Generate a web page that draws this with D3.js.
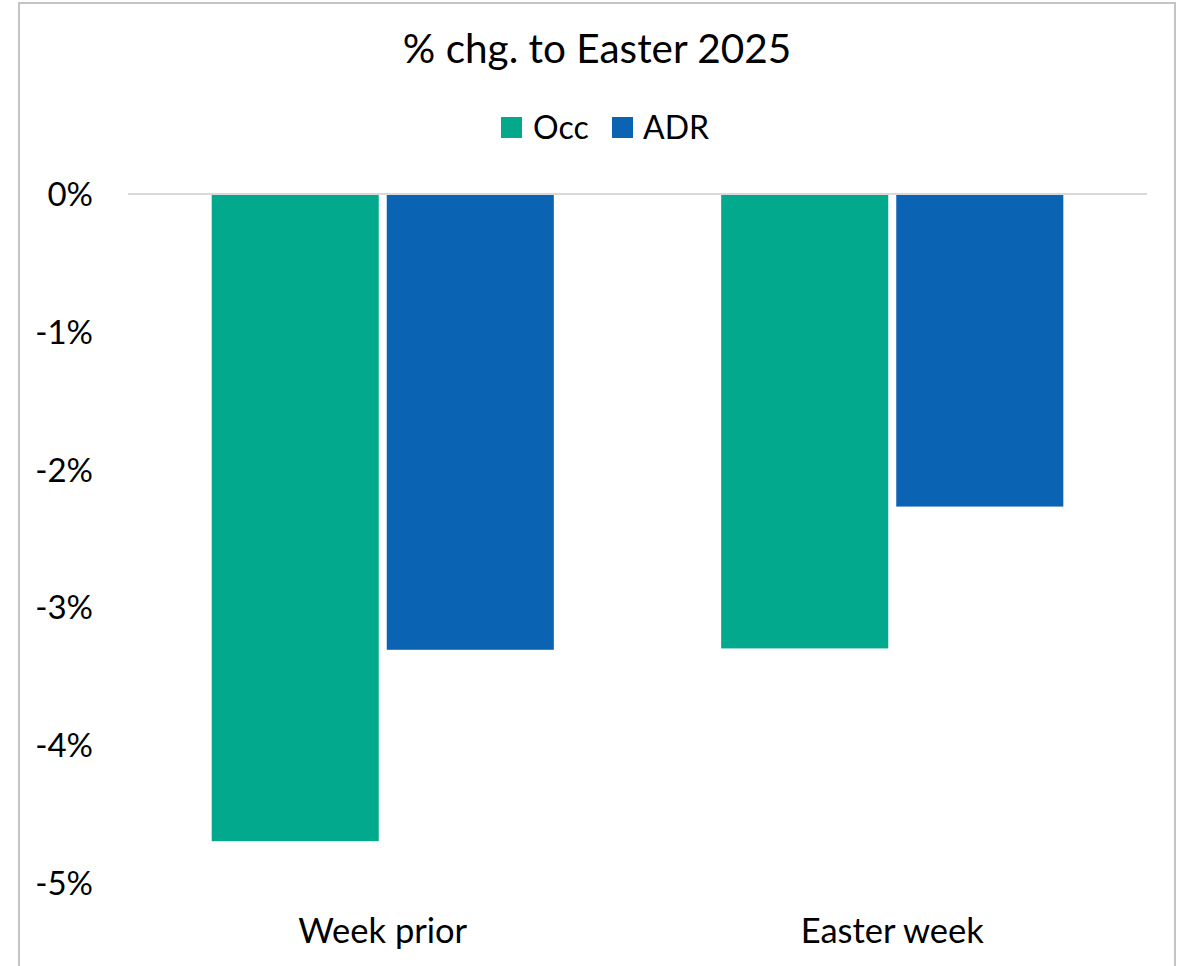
<!DOCTYPE html>
<html>
<head>
<meta charset="utf-8">
<script src="https://cdn.jsdelivr.net/npm/d3@7"></script>
<style>
  html, body { margin: 0; padding: 0; background: #ffffff; }
  svg { display: block; }
  text { font-family: Lato, "Open Sans", sans-serif; fill: #000; }
</style>
</head>
<body>
<svg id="chart" width="1183" height="966"></svg>
<script>
// Chart data
const categories = ["Week prior", "Easter week"];
const seriesNames = ["Occ", "ADR"];
const occValues = [-4.70, -3.30];
const adrValues = [-3.31, -2.27];
const yTicks = [0, -1, -2, -3, -4, -5];
const titleText = "% chg. to Easter 2025";

const colors = { Occ: "#02A98C", ADR: "#0A63B3" };

const svg = d3.select("#chart");

// outer frame
svg.append("rect")
  .attr("x", 19).attr("y", 3)
  .attr("width", 1156).attr("height", 1000)
  .attr("fill", "#ffffff")
  .attr("stroke", "#c4c4c4")
  .attr("stroke-width", 2);

const plot = { left: 128, right: 1147, top: 194, bottom: 882.5 };

const y = d3.scaleLinear().domain([-5, 0]).range([plot.bottom, plot.top]);
const x0 = d3.scaleBand().domain(categories).range([plot.left, plot.right]).padding(0);
const x1 = d3.scaleBand().domain(seriesNames)
  .range([0, x0.bandwidth()])
  .paddingInner(0.0457)
  .paddingOuter(0.478);

// title
svg.append("text")
  .attr("x", 597).attr("y", 63)
  .attr("text-anchor", "middle")
  .attr("font-size", 40.5)
  .text(titleText);

// legend
const legend = svg.append("g");
const legendItems = [
  { name: "Occ", sx: 501, tx: 533 },
  { name: "ADR", sx: 612, tx: 643 }
];
legendItems.forEach(d => {
  legend.append("rect")
    .attr("x", d.sx).attr("y", 117)
    .attr("width", 21).attr("height", 21)
    .attr("fill", colors[d.name]);
  legend.append("text")
    .attr("x", d.tx).attr("y", 139)
    .attr("font-size", 32)
    .text(d.name);
});

// y axis labels (plain hyphen for negatives)
const yAxis = d3.axisLeft(y)
  .tickValues(yTicks)
  .tickSize(0)
  .tickPadding(0)
  .tickFormat(d => (d < 0 ? "-" : "") + Math.abs(d) + "%");
const yG = svg.append("g")
  .attr("transform", `translate(93,0)`)
  .call(yAxis);
yG.select(".domain").remove();
yG.selectAll("text")
  .attr("font-size", 33)
  .attr("dy", "0.36em")
  .style("font-family", "Lato, 'Open Sans', sans-serif")
  .attr("fill", "#000");

// bars
const rows = categories.map((c, i) => ({ cat: c, Occ: occValues[i], ADR: adrValues[i] }));
const groups = svg.append("g").selectAll("g")
  .data(rows).join("g")
  .attr("transform", d => `translate(${x0(d.cat)},0)`);
groups.selectAll("rect")
  .data(d => seriesNames.map(s => ({ s, v: d[s] })))
  .join("rect")
  .attr("x", d => x1(d.s))
  .attr("width", x1.bandwidth())
  .attr("y", d => y(Math.max(0, d.v)))
  .attr("height", d => Math.abs(y(d.v) - y(0)))
  .attr("fill", d => colors[d.s]);

// zero line
svg.append("line")
  .attr("x1", plot.left).attr("x2", plot.right)
  .attr("y1", y(0)).attr("y2", y(0))
  .attr("stroke", "#d9d9d9")
  .attr("stroke-width", 2);

// category labels (placed low, below the plot)
const xAxis = d3.axisBottom(x0).tickSize(0).tickPadding(0);
const xG = svg.append("g")
  .attr("transform", `translate(0,943)`)
  .call(xAxis);
xG.select(".domain").remove();
xG.selectAll("text")
  .attr("font-size", 34.5)
  .attr("dy", 0)
  .style("font-family", "Lato, 'Open Sans', sans-serif")
  .attr("fill", "#000");
</script>
</body>
</html>
